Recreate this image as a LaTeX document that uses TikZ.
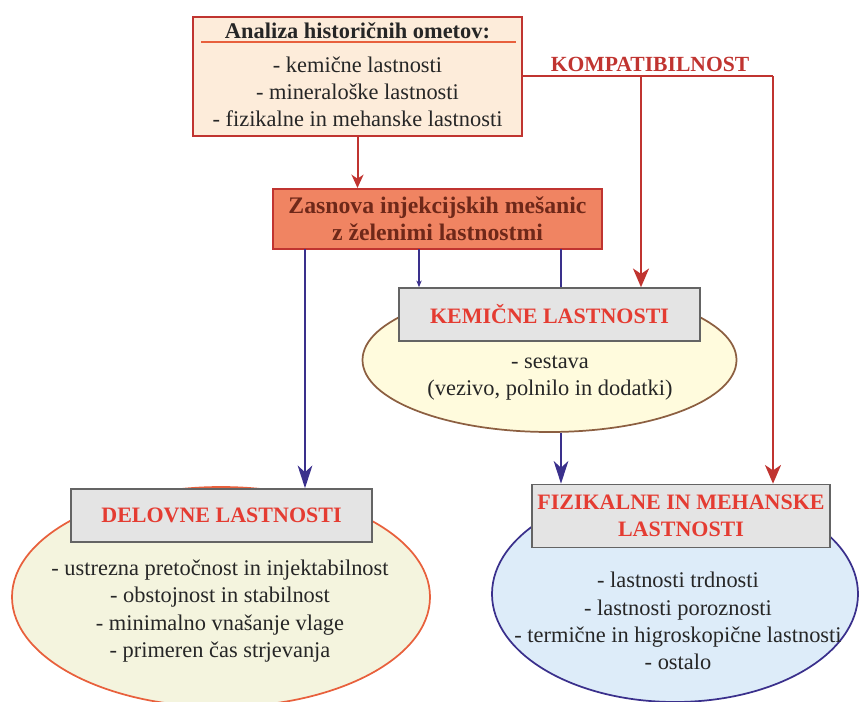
\documentclass[tikz,border=0pt]{standalone}
\usepackage{fontspec}
\setmainfont{Liberation Serif}
\usetikzlibrary{shapes.geometric,arrows.meta}
\definecolor{kompred}{RGB}{192,52,48}
\definecolor{headred}{RGB}{228,60,50}
\definecolor{peach}{RGB}{253,236,218}
\definecolor{salmon}{RGB}{240,132,98}
\definecolor{brownish}{RGB}{110,40,25}
\definecolor{boxgray}{RGB}{228,228,228}
\definecolor{edgegray}{RGB}{100,100,100}
\definecolor{lineblue}{RGB}{58,48,140}
\definecolor{yel}{RGB}{255,251,221}
\definecolor{yel2}{RGB}{244,244,222}
\definecolor{lightblue}{RGB}{221,236,249}
\definecolor{orangeedge}{RGB}{232,96,60}
\definecolor{brownedge}{RGB}{140,95,65}

\begin{document}
\begin{tikzpicture}
  [x=0.75pt,y=-0.75pt,
   every node/.style={align=center,inner sep=0pt,text=black!85,font=\fontsize{16.8}{20.5}\selectfont},
   redbox/.style={draw=kompred,line width=1.5pt},
   graybox/.style={draw=edgegray,fill=boxgray,line width=1.2pt,text=headred,font=\bfseries\fontsize{16.5}{20}\selectfont},
   oval/.style={ellipse,line width=1.3pt},
   redline/.style={draw=kompred,line width=1.5pt},
   redarrow/.style={redline,-{Stealth[length=14pt,width=12pt,inset=4pt]}},
   blueline/.style={draw=lineblue,line width=1.5pt},
   bluearrow/.style={blueline,-{Stealth[length=17pt,width=11pt,inset=5pt]}}]
  \useasboundingbox (0,0) rectangle (859,702);

  \node[oval,draw=brownedge,fill=yel,minimum width=280.5pt,minimum height=108pt] (kemel) at (549.5,360) {};
  \node[oval,draw=orangeedge,fill=yel2,minimum width=313.5pt,minimum height=165pt] (delel) at (221,597) {};
  \node[oval,draw=lineblue,fill=lightblue,minimum width=274.5pt,minimum height=162pt] (fizel) at (675,594) {};

  \node[redbox,fill=peach,minimum width=246.75pt,minimum height=89.25pt] (analiza) at (357.5,76.5)
    {\textbf{Analiza historičnih ometov:}\\[4.5pt] - kemične lastnosti\\ - mineraloške lastnosti\\
     - fizikalne in mehanske lastnosti\rule[-2.5pt]{0pt}{0pt}};
  \node[redbox,fill=salmon,text=brownish,font=\bfseries\fontsize{17.8}{20.3}\selectfont,
        minimum width=246.75pt,minimum height=45pt] (zasnova) at (437.5,219)
    {Zasnova injekcijskih mešanic\\ z želenimi lastnostmi};
  \node[graybox,minimum width=225.75pt,minimum height=39.75pt] (kemicne) at (549.5,314.5) {KEMIČNE LASTNOSTI};
  \node[graybox,minimum width=225.75pt,minimum height=39.75pt] (delovne) at (221.5,515.5) {DELOVNE LASTNOSTI};
  \node[graybox,minimum width=223.5pt,minimum height=47.25pt] (fizikalne) at (681,516) {FIZIKALNE IN MEHANSKE\\ LASTNOSTI};

  \node (kemtxt) at (550,378) {- sestava\\ (vezivo, polnilo in dodatki)};
  \node (deltxt) at (220,611) {- ustrezna pretočnost in injektabilnost\\ - obstojnost in stabilnost\\
    - minimalno vnašanje vlage\\ - primeren čas strjevanja};
  \node (fiztxt) at (678,621) {- lastnosti trdnosti\\ - lastnosti poroznosti\\
    - termične in higroskopične lastnosti\\ - ostalo};
  \node[text=kompred,font=\bfseries\fontsize{16.2}{20}\selectfont] (kompat) at (650,64) {KOMPATIBILNOST};

  \draw[orangeedge,line width=1pt] ([shift={(9,26)}]analiza.north west) -- ([shift={(-7,26)}]analiza.north east);

  \coordinate (kj) at (641,76.5);
  \coordinate (kr) at (773,76.5);
  \coordinate (b1) at (305,249);
  \coordinate (b2) at (419,249);
  \coordinate (b3) at (561,249);

  \draw[redline] (analiza.east) -- (kr);
  \foreach \from/\to in {kj/kemicne,kr/fizikalne}
    \draw[redarrow] (\from) -- (\from |- \to.north);
  \draw[redline,-{Stealth[length=10pt,width=9pt,inset=3pt]}] (analiza.south) -- (analiza.south |- zasnova.north);

  \draw[bluearrow] (b1) -- (b1 |- delovne.north);
  \draw[blueline,-{Stealth[length=5pt,width=4pt]}] (b2) -- (b2 |- kemicne.north);
  \draw[blueline] (b3) -- (b3 |- kemicne.north);
  \draw[bluearrow] (kemel.south -| b3) -- (b3 |- fizikalne.north);

\end{tikzpicture}
\end{document}
